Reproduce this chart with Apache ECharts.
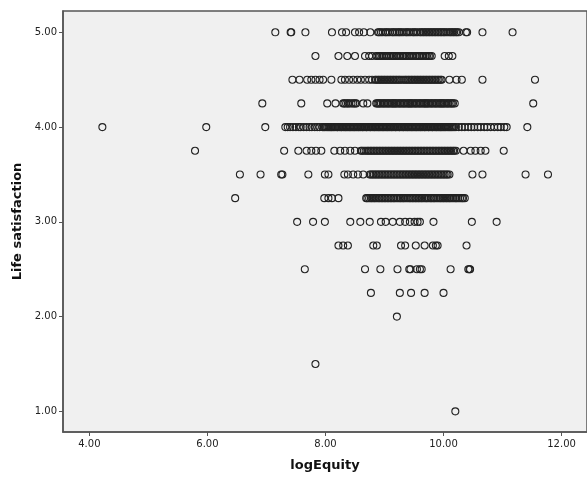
<!DOCTYPE html>
<html>
<head>
<meta charset="utf-8">
<script src="https://cdn.jsdelivr.net/npm/echarts@6/dist/echarts.min.js"></script>
<style>
html,body{margin:0;padding:0;background:#fff;}
#c{width:587px;height:481px;}
</style>
</head>
<body>
<div id="c"></div>
<script>
// Life satisfaction levels (y) and logEquity values (x) read per level
const xTicks = [4, 6, 8, 10, 12];
const yTicks = [1, 2, 3, 4, 5];

const r500 = [7.15, 7.41, 7.42, 7.66, 8.11, 8.28, 8.35, 8.50, 8.57, 8.65, 8.76, 8.89, 8.94, 9.01, 9.06, 9.13, 9.18, 9.24, 9.29, 9.36, 9.41, 9.48, 9.53, 9.60, 9.65, 9.70, 9.75, 9.80, 9.85, 9.90, 9.95, 10.00, 10.05, 10.11, 10.16, 10.21, 10.26, 10.38, 10.40, 10.66, 11.17];
const r500b = [8.91, 8.97, 9.03, 9.09, 9.15, 9.21, 9.26, 9.32, 9.38, 9.44, 9.50, 9.56, 9.62, 9.67, 9.72, 9.77, 9.82, 9.87, 9.92, 9.97, 10.02, 10.08, 10.13, 10.18, 10.23];
const r475 = [7.83, 8.22, 8.37, 8.50, 8.67, 8.74, 8.79, 8.86, 8.91, 8.96, 9.02, 9.08, 9.14, 9.19, 9.24, 9.31, 9.36, 9.41, 9.46, 9.53, 9.58, 9.63, 9.70, 9.75, 9.80, 10.02, 10.09, 10.15];
const r475b = [8.88, 8.93, 8.99, 9.05, 9.11, 9.16, 9.21, 9.27, 9.33, 9.38, 9.43, 9.49, 9.55, 9.60, 9.66, 9.72, 9.77];
const r450 = [7.44, 7.56, 7.69, 7.76, 7.83, 7.90, 7.96, 8.10, 8.27, 8.33, 8.40, 8.47, 8.54, 8.60, 8.67, 8.74, 8.79, 8.84, 8.89, 8.94, 8.99, 9.04, 9.09, 9.14, 9.19, 9.24, 9.29, 9.35, 9.40, 9.45, 9.50, 9.55, 9.60, 9.65, 9.70, 9.75, 9.80, 9.85, 9.90, 9.95, 10.10, 10.22, 10.31, 10.66, 11.55];
const r450b = [8.86, 8.91, 8.96, 9.01, 9.06, 9.11, 9.16, 9.21, 9.26, 9.32, 9.37, 9.42, 9.47, 9.52, 9.57, 9.62, 9.67, 9.72, 9.77, 9.82, 9.87, 9.92, 9.97];
const r425 = [6.93, 7.59, 8.03, 8.17, 8.30, 8.35, 8.40, 8.47, 8.52, 8.64, 8.71, 8.86, 8.92, 8.99, 9.06, 9.13, 9.19, 9.26, 9.33, 9.40, 9.46, 9.53, 9.60, 9.67, 9.73, 9.80, 9.87, 9.94, 10.00, 10.07, 10.14, 10.19, 11.52];
const r425b = [8.32, 8.38, 8.44, 8.50, 8.88, 8.90, 8.94, 8.97, 9.01, 9.04, 9.08, 9.11, 9.15, 9.17, 9.21, 9.24, 9.28, 9.31, 9.35, 9.38, 9.42, 9.44, 9.48, 9.51, 9.55, 9.58, 9.62, 9.65, 9.69, 9.71, 9.75, 9.78, 9.82, 9.85, 9.89, 9.92, 9.96, 9.98, 10.02, 10.05, 10.09, 10.12, 10.16];
const r400 = [4.22, 5.98, 6.98, 7.32, 7.36, 7.40, 7.45, 7.50, 7.55, 7.58, 7.63, 7.68, 7.73, 7.77, 7.82, 7.86, 7.90, 7.95, 7.99, 8.03, 8.07, 8.10, 8.14, 8.18, 8.21, 8.25, 8.28, 8.32, 8.35, 8.39, 8.42, 8.46, 8.49, 8.53, 8.56, 8.60, 8.63, 8.67, 8.70, 8.74, 8.77, 8.81, 8.84, 8.88, 8.91, 8.95, 8.98, 9.02, 9.05, 9.09, 9.12, 9.16, 9.19, 9.23, 9.26, 9.30, 9.33, 9.37, 9.40, 9.44, 9.47, 9.51, 9.54, 9.58, 9.61, 9.65, 9.68, 9.72, 9.75, 9.79, 9.82, 9.86, 9.89, 9.93, 9.96, 10.00, 10.04, 10.08, 10.12, 10.16, 10.21, 10.26, 10.31, 10.36, 10.42, 10.47, 10.52, 10.58, 10.63, 10.69, 10.74, 10.80, 10.86, 10.92, 10.97, 11.03, 11.07, 11.42];
const r400b = [7.97, 8.01, 8.05, 8.09, 8.12, 8.16, 8.20, 8.23, 8.27, 8.30, 8.34, 8.37, 8.41, 8.44, 8.48, 8.51, 8.55, 8.58, 8.62, 8.65, 8.69, 8.72, 8.76, 8.79, 8.83, 8.86, 8.90, 8.93, 8.97, 9.00, 9.04, 9.07, 9.11, 9.14, 9.18, 9.21, 9.25, 9.28, 9.32, 9.35, 9.39, 9.42, 9.46, 9.49, 9.53, 9.56, 9.60, 9.63, 9.67, 9.70, 9.74, 9.77, 9.81, 9.84, 9.88, 9.91, 9.95, 9.98, 10.02, 10.06, 10.10, 10.14, 10.18];
const r375 = [5.79, 7.30, 7.54, 7.68, 7.76, 7.84, 7.93, 8.15, 8.25, 8.33, 8.42, 8.50, 8.60, 8.65, 8.71, 8.76, 8.81, 8.86, 8.91, 8.96, 9.01, 9.06, 9.11, 9.16, 9.21, 9.26, 9.31, 9.36, 9.41, 9.46, 9.51, 9.56, 9.61, 9.66, 9.71, 9.76, 9.81, 9.86, 9.91, 9.96, 10.01, 10.06, 10.11, 10.16, 10.21, 10.34, 10.46, 10.54, 10.63, 10.71, 11.02];
const r375b = [8.62, 8.68, 8.73, 8.78, 8.83, 8.88, 8.93, 8.98, 9.03, 9.08, 9.13, 9.18, 9.23, 9.28, 9.33, 9.38, 9.43, 9.48, 9.53, 9.58, 9.63, 9.68, 9.73, 9.78, 9.83, 9.88, 9.93, 9.98, 10.03, 10.08, 10.13, 10.18];
const r350 = [6.55, 6.90, 7.25, 7.27, 7.71, 7.99, 8.05, 8.32, 8.38, 8.47, 8.55, 8.64, 8.75, 8.80, 8.85, 8.90, 8.95, 9.00, 9.05, 9.10, 9.15, 9.20, 9.25, 9.30, 9.35, 9.40, 9.45, 9.50, 9.55, 9.60, 9.65, 9.70, 9.75, 9.80, 9.85, 9.90, 9.95, 10.00, 10.05, 10.10, 10.49, 10.66, 11.39, 11.77];
const r350b = [8.77, 8.82, 8.87, 8.92, 8.97, 9.02, 9.07, 9.12, 9.17, 9.22, 9.27, 9.32, 9.37, 9.42, 9.47, 9.52, 9.57, 9.62, 9.67, 9.72, 9.77, 9.82, 9.87, 9.92, 9.97, 10.02, 10.07];
const r325 = [6.47, 7.98, 8.05, 8.11, 8.22, 8.69, 8.74, 8.79, 8.84, 8.90, 8.95, 9.00, 9.05, 9.10, 9.15, 9.20, 9.26, 9.31, 9.36, 9.42, 9.47, 9.52, 9.57, 9.62, 9.67, 9.72, 9.78, 9.83, 9.88, 9.94, 9.99, 10.04, 10.09, 10.14, 10.20, 10.25, 10.31, 10.36];
const r325b = [8.71, 8.77, 8.82, 8.87, 8.92, 8.97, 9.02, 9.07, 9.12, 9.17, 9.23, 9.28, 9.33, 9.39, 9.44, 9.49, 9.54, 9.59, 9.64, 9.70, 9.75, 9.80, 9.85, 9.91, 9.96, 10.01, 10.06, 10.11, 10.17, 10.22, 10.28, 10.33];
const r300 = [7.52, 7.79, 7.99, 8.42, 8.59, 8.75, 8.94, 9.02, 9.14, 9.26, 9.35, 9.43, 9.51, 9.56, 9.60, 9.83, 10.48, 10.90];
const r275 = [8.22, 8.30, 8.38, 8.81, 8.87, 9.28, 9.35, 9.53, 9.68, 9.82, 9.87, 9.90, 10.39];
const r250 = [7.65, 8.67, 8.93, 9.22, 9.42, 9.44, 9.55, 9.60, 9.63, 10.12, 10.42, 10.44, 10.45];
const r225 = [8.77, 9.26, 9.45, 9.68, 10.00];
const r200 = [9.21];
const r150 = [7.83];
const r100 = [10.20];

const rows = [
  [5.00, r500], [5.00, r500b], [4.75, r475], [4.75, r475b], [4.50, r450], [4.50, r450b],
  [4.25, r425], [4.25, r425b], [4.00, r400], [4.00, r400b],
  [3.75, r375], [3.75, r375b], [3.50, r350], [3.50, r350b], [3.25, r325], [3.25, r325b],
  [3.00, r300], [2.75, r275], [2.50, r250], [2.25, r225], [2.00, r200], [1.50, r150], [1.00, r100]
];
const points = [];
rows.forEach(([y, xs]) => xs.forEach(x => points.push([x, y])));

const chart = echarts.init(document.getElementById('c'), null, {renderer: 'canvas'});
const labelFont = {fontFamily: 'DejaVu Sans', fontSize: 10, color: '#222'};
chart.setOption({
  animation: false,
  backgroundColor: '#ffffff',
  grid: {
    left: 63, top: 11, width: 526, height: 421,
    show: true, backgroundColor: '#f0f0f0', borderColor: '#555', borderWidth: 1.5
  },
  xAxis: {
    type: 'value', min: 3.553, max: 12.431,
    splitLine: {show: false},
    axisLine: {show: true, lineStyle: {color: '#555', width: 1.5}},
    axisTick: {show: true, length: 4, customValues: xTicks, lineStyle: {color: '#555'}},
    axisLabel: Object.assign({margin: 7, customValues: xTicks, formatter: v => v.toFixed(2)}, labelFont),
    name: 'logEquity', nameLocation: 'middle', nameGap: 27,
    nameTextStyle: {fontFamily: 'DejaVu Sans', fontSize: 13, fontWeight: 'bold', color: '#111'}
  },
  yAxis: {
    type: 'value', min: 0.782, max: 5.225,
    splitLine: {show: false},
    axisLine: {show: true, lineStyle: {color: '#555', width: 1.5}},
    axisTick: {show: true, length: 4, customValues: yTicks, lineStyle: {color: '#555'}},
    axisLabel: Object.assign({margin: 6, customValues: yTicks, formatter: v => v.toFixed(2)}, labelFont),
    name: 'Life satisfaction', nameLocation: 'middle', nameGap: 38,
    nameTextStyle: {fontFamily: 'DejaVu Sans', fontSize: 13, fontWeight: 'bold', color: '#111'}
  },
  series: [{
    type: 'scatter',
    data: points,
    symbol: 'circle',
    symbolSize: 7,
    large: false,
    itemStyle: {color: 'rgba(0,0,0,0)', borderColor: '#222', borderWidth: 1.1, opacity: 1}
  }]
});
</script>
</body>
</html>
